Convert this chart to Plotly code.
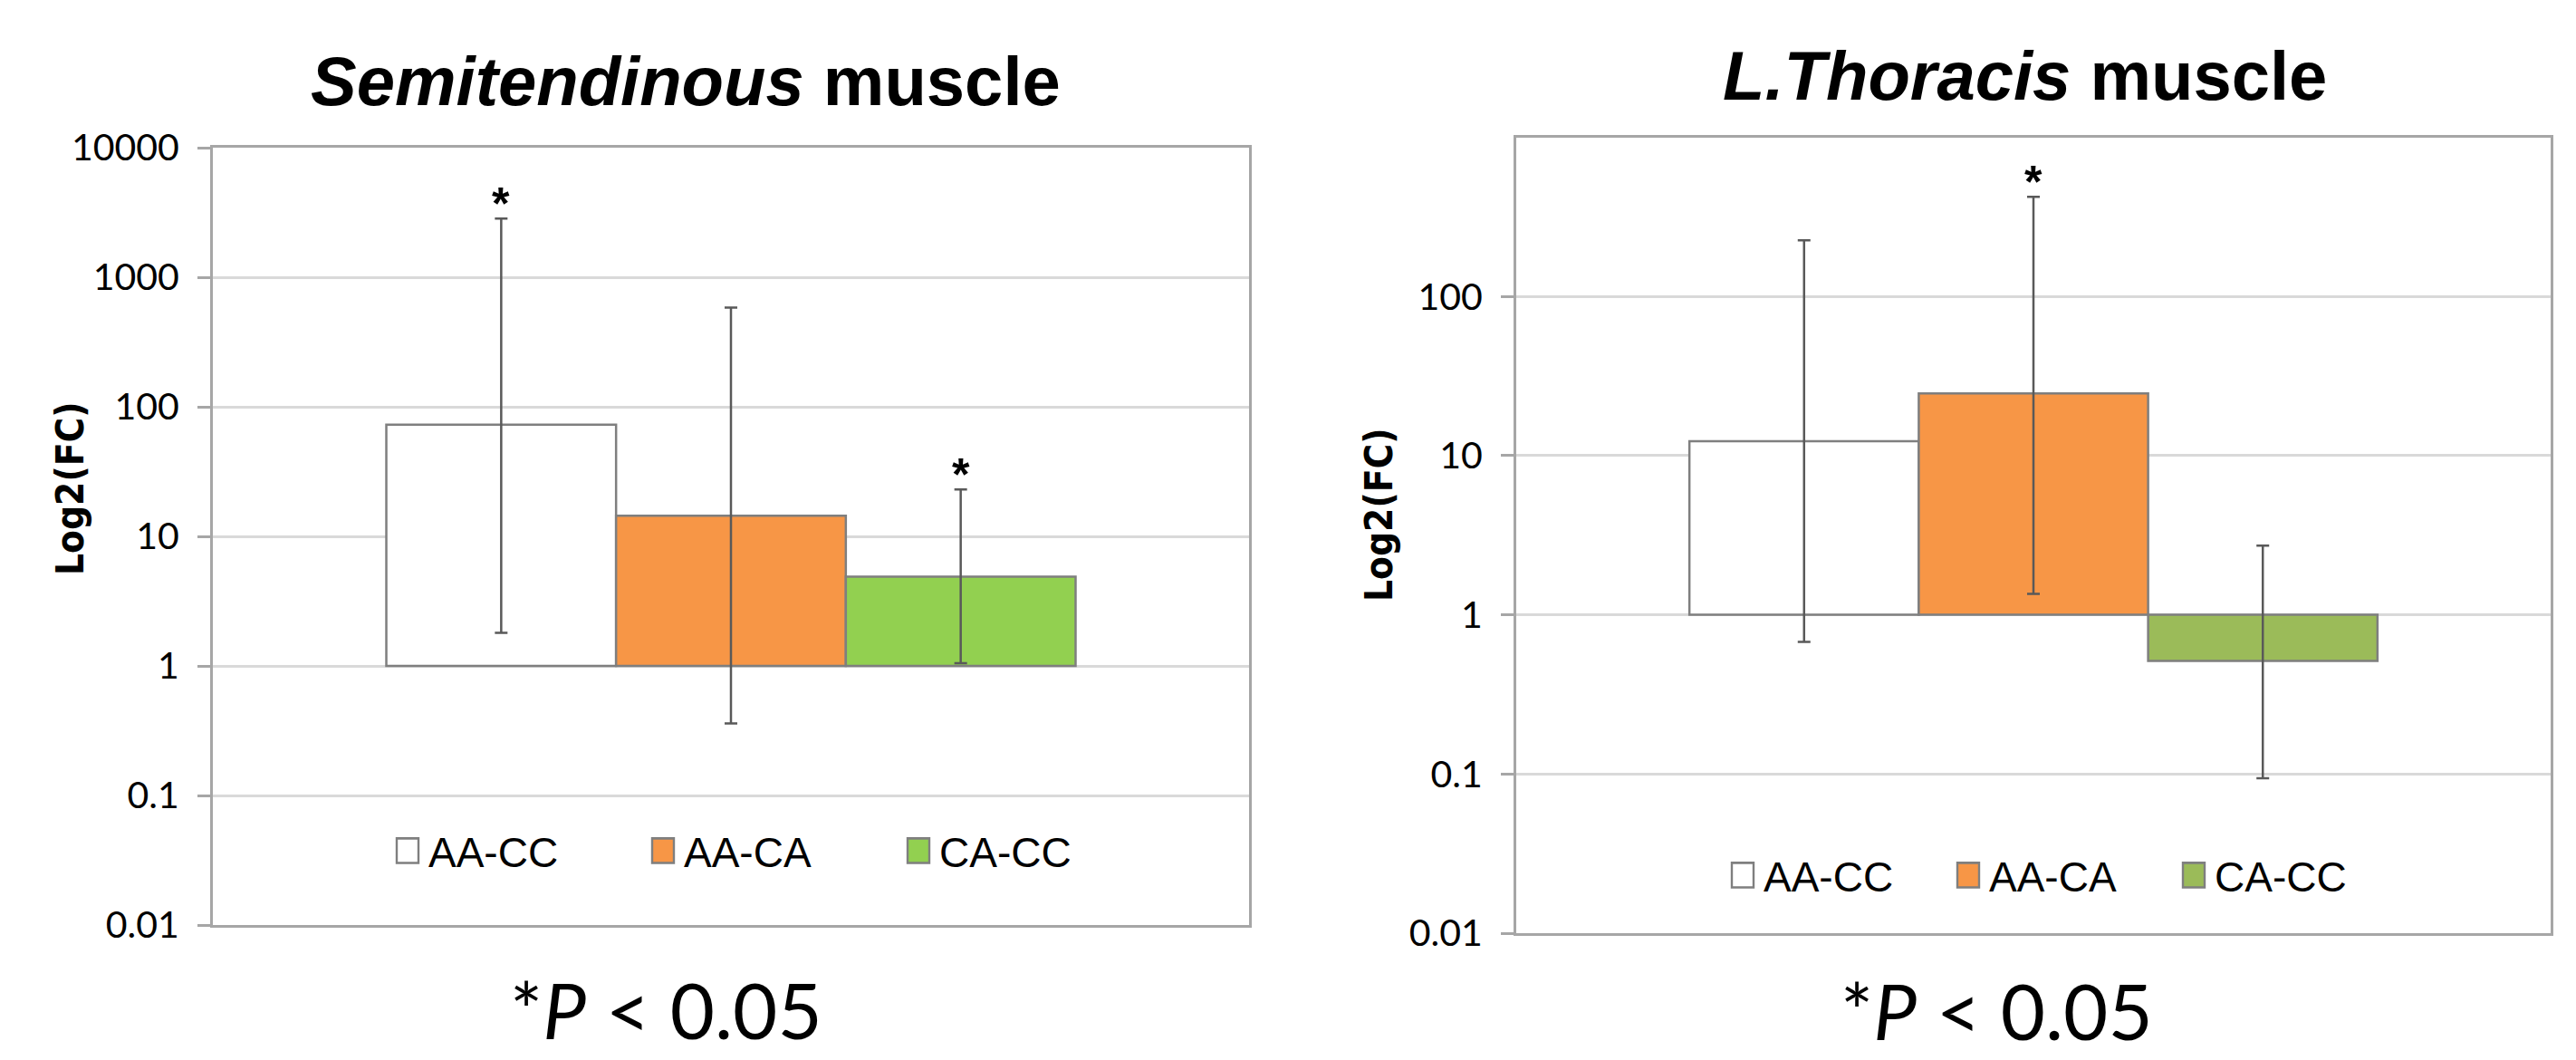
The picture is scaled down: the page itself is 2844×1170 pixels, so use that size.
import math
import plotly.graph_objects as go

# ---------------- data ----------------
series = ["AA-CC", "AA-CA", "CA-CC"]

semi_values = [72.8, 14.4, 4.88]
semi_err_high = [2840, 582, 23]
semi_err_low = [1.80, 0.36, 1.05]
semi_sig = [True, False, True]

thor_values = [12.3, 24.6, 0.514]
thor_err_high = [225, 422, 2.72]
thor_err_low = [0.675, 1.355, 0.094]
thor_sig = [False, True, False]

semi_colors = ["#FFFFFF", "#F79646", "#92D050"]
thor_colors = ["#FFFFFF", "#F79646", "#9BBB59"]

semi_ticks = [0.01, 0.1, 1, 10, 100, 1000, 10000]
semi_ticktext = ["0.01", "0.1", "1", "10", "100", "1000", "10000"]
thor_ticks = [0.01, 0.1, 1, 10, 100]
thor_ticktext = ["0.01", "0.1", "1", "10", "100"]

bar_base = 1
titles = ["<b><i>Semitendinous</i> muscle</b>", "<b><i>L.Thoracis</i> muscle</b>"]
ytitle = "<b>Log2(FC)</b>"
ptext = "*<i>P</i> < 0.05"

# ---------------- figure ----------------
W, H = 2844, 1170
fig = go.Figure()

EDGE = "#7F7F7F"
ERR = "#595959"
AXLINE = "#A6A6A6"
GRID = "#D9D9D9"
TICKFONT = dict(family="Lato, Calibri, sans-serif", size=41, color="black")
YTFONT = dict(family="Liberation Sans Narrow, Arial Narrow, DejaVu Sans Condensed, sans-serif",
              size=42, color="black")
PFONT = dict(family="Lato, Calibri, sans-serif", size=85, color="black")

panels = [
    dict(xa="x", ya="y", vals=semi_values, hi=semi_err_high, lo=semi_err_low,
         sig=semi_sig, colors=semi_colors, legend="legend"),
    dict(xa="x2", ya="y2", vals=thor_values, hi=thor_err_high, lo=thor_err_low,
         sig=thor_sig, colors=thor_colors, legend="legend2"),
]

annotations = []
for p in panels:
    for i, name in enumerate(series):
        v = p["vals"][i]
        fig.add_trace(go.Bar(
            x=[name], y=[v - bar_base], base=[bar_base], width=[1],
            marker=dict(color=p["colors"][i], line=dict(color=EDGE, width=2.5)),
            error_y=dict(type="data", symmetric=False,
                         array=[p["hi"][i] - v], arrayminus=[v - p["lo"][i]],
                         color=ERR, thickness=2.5, width=7),
            showlegend=False, hoverinfo="skip",
            xaxis=p["xa"], yaxis=p["ya"],
        ))
        fig.add_trace(go.Scatter(
            x=[None], y=[None], mode="markers", name=name,
            marker=dict(symbol="square", size=16, color=p["colors"][i],
                        line=dict(color=EDGE, width=1.6)),
            legend=p["legend"], showlegend=True,
            xaxis=p["xa"], yaxis=p["ya"],
        ))
        if p["sig"][i]:
            annotations.append(dict(
                x=name, y=math.log10(p["hi"][i]), xref=p["xa"], yref=p["ya"],
                text="<b>*</b>", showarrow=False, yanchor="middle", yshift=16,
                font=dict(family="Liberation Sans, Arial, sans-serif", size=50, color="black"),
            ))

# titles and notes
annotations += [
    dict(x=757 / W, y=1 - 90 / H, xref="paper", yref="paper", text=titles[0],
         showarrow=False, xanchor="center", yanchor="middle",
         font=dict(family="Liberation Sans, Arial, sans-serif", size=76, color="black")),
    dict(x=2235 / W, y=1 - 84 / H, xref="paper", yref="paper", text=titles[1],
         showarrow=False, xanchor="center", yanchor="middle",
         font=dict(family="Liberation Sans, Arial, sans-serif", size=76, color="black")),
    dict(x=77 / W, y=1 - 540 / H, xref="paper", yref="paper", text=ytitle,
         textangle=-90, showarrow=False, xanchor="center", yanchor="middle", font=YTFONT),
    dict(x=1522 / W, y=1 - 569 / H, xref="paper", yref="paper", text=ytitle,
         textangle=-90, showarrow=False, xanchor="center", yanchor="middle", font=YTFONT),
    dict(x=735 / W, y=3 / H, xref="paper", yref="paper", text=ptext,
         showarrow=False, xanchor="center", yanchor="bottom", font=PFONT),
    dict(x=2204 / W, y=2 / H, xref="paper", yref="paper", text=ptext,
         showarrow=False, xanchor="center", yanchor="bottom", font=PFONT),
]

xcommon = dict(type="category", categoryorder="array", categoryarray=series,
               range=[-1.255, 3.255], showticklabels=False, ticks="",
               showline=True, mirror=True, linecolor=AXLINE, linewidth=3,
               showgrid=False, zeroline=False, fixedrange=True, automargin=False)
ycommon = dict(type="log", ticks="outside", ticklen=14, tickwidth=2.5, tickcolor=AXLINE,
               showline=True, mirror=True, linecolor=AXLINE, linewidth=3,
               showgrid=True, gridcolor=GRID, gridwidth=2.5, zeroline=False,
               tickfont=TICKFONT, ticklabelstandoff=12, fixedrange=True, automargin=False)

legcommon = dict(orientation="h", xanchor="left", yanchor="middle",
                 font=dict(family="Liberation Sans, Arial, sans-serif", size=46, color="black"),
                 bgcolor="rgba(0,0,0,0)", entrywidthmode="pixels",
                 itemclick=False, itemdoubleclick=False, tracegroupgap=0)

fig.update_layout(
    width=W, height=H, margin=dict(l=0, r=0, t=0, b=0, autoexpand=False),
    paper_bgcolor="white", plot_bgcolor="white",
    barmode="overlay", showlegend=True,
    xaxis=dict(domain=[235 / W, 1379 / W], anchor="y", **xcommon),
    yaxis=dict(domain=[1 - 1021 / H, 1 - 163 / H], anchor="x", range=[-2, 4],
               tickvals=semi_ticks, ticktext=semi_ticktext, **ycommon),
    xaxis2=dict(domain=[1674 / W, 2816 / W], anchor="y2", **xcommon),
    yaxis2=dict(domain=[1 - 1030 / H, 1 - 151.5 / H], anchor="x2", range=[-2, 3],
                tickvals=thor_ticks, ticktext=thor_ticktext, **ycommon),
    legend=dict(x=433 / W, y=1 - 939 / H, entrywidth=237, **legcommon),
    legend2=dict(x=1907 / W, y=1 - 966 / H, entrywidth=204, **legcommon),
    annotations=annotations,
)

# reset page margin; enlarge the legend swatches to match the reference's larger boxes
post = ("document.body.style.margin='0';"
        "document.querySelectorAll('.legendpoints path.scatterpts').forEach(function(p){"
        "p.setAttribute('transform','translate(17,0) scale(1.5,1.7)');});")

fig.write_html("out.html", config={"displayModeBar": False}, post_script=post)
